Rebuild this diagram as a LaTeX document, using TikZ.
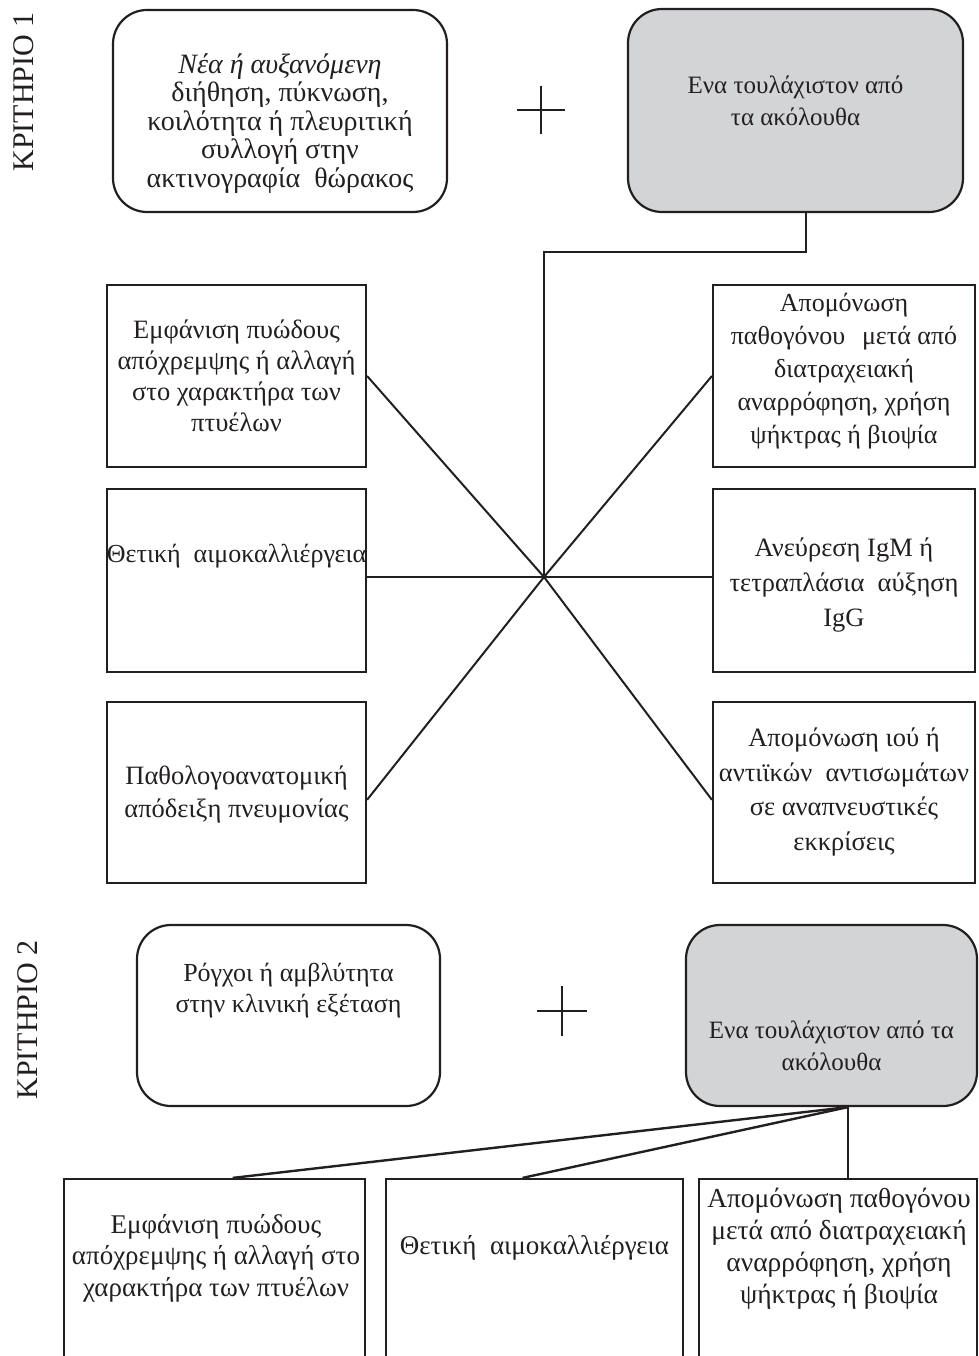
\documentclass[tikz,border=0pt]{standalone}
\usepackage{fontspec}
\setmainfont{Liberation Serif}
\usetikzlibrary{calc}
\definecolor{boxgrey}{RGB}{211,212,214}
\definecolor{ink}{RGB}{35,31,32}
\begin{document}
\begin{tikzpicture}[x=1pt,y=-1pt,
  boxline/.style={draw=ink,line width=2.2pt},
  rbox/.style={boxline,rounded corners=34pt,inner sep=0pt},
  sbox/.style={boxline,inner sep=0pt},
  greyfill/.style={fill=boxgrey},
  txt/.style={align=center,inner sep=0pt,text=ink},
  link/.style={draw=ink,line width=2pt},
  plusline/.style={draw=ink,line width=2pt},
  crit/.style={rotate=90,font=\fontsize{30}{30}\selectfont,inner sep=0pt,text=ink}]
\useasboundingbox (0,0) rectangle (978,1356);

% ---------- criterion 1 ----------
\node[crit] (K1) at (24,92) {ΚΡΙΤΗΡΙΟ 1};

\node[rbox,minimum width=334,minimum height=202] (A1) at (280,111) {};
\node[txt,font=\fontsize{28}{28.5}\selectfont] (A1t) at (280,123.5)
  {{\itshape Νέα ή αυξανόμενη}\\ διήθηση, πύκνωση,\\ κοιλότητα ή πλευριτική\\ συλλογή στην\\ ακτινογραφία\ \ θώρακος};

\draw[plusline] (541,86) -- (541,134) (517,110) -- (565,110);

\node[rbox,greyfill,minimum width=335,minimum height=203] (G1) at (795.5,110.5) {};
\node[txt,font=\fontsize{25}{32}\selectfont] (G1t) at (795.5,101)
  {Ενα τουλάχιστον από\\ τα ακόλουθα};

% middle boxes
\node[sbox,minimum width=259,minimum height=182] (L1) at (236.5,376) {};
\node[txt,font=\fontsize{26.5}{31}\selectfont] (L1t) at (236.5,376)
  {Εμφάνιση πυώδους\\ απόχρεμψης ή αλλαγή\\ στο χαρακτήρα των\\ πτυέλων};
\node[sbox,minimum width=259,minimum height=183] (L2) at (236.5,580.5) {};
\node[txt,font=\fontsize{26}{32}\selectfont] (L2t) at (236.5,556)
  {Θετική\ \ αιμοκαλλιέργεια};
\node[sbox,minimum width=259,minimum height=181] (L3) at (236.5,792.5) {};
\node[txt,font=\fontsize{26.5}{33}\selectfont] (L3t) at (236.5,794)
  {Παθολογοανατομική\\ απόδειξη πνευμονίας};

\node[sbox,minimum width=262,minimum height=182] (R1) at (844,376) {};
\node[txt,font=\fontsize{26}{33}\selectfont] (R1t) at (844,371.5)
  {Απομόνωση\\ παθογόνου\hspace{0.4em} μετά από\\ διατραχειακή\\ αναρρόφηση, χρήση\\ ψήκτρας ή βιοψία};
\node[sbox,minimum width=262,minimum height=183] (R2) at (844,580.5) {};
\node[txt,font=\fontsize{26.5}{35}\selectfont] (R2t) at (844,585)
  {Ανεύρεση IgM ή\\ τετραπλάσια\ \ αύξηση\\ IgG};
\node[sbox,minimum width=262,minimum height=181] (R3) at (844,792.5) {};
\node[txt,font=\fontsize{26.5}{34.5}\selectfont] (R3t) at (844,792)
  {Απομόνωση ιού ή\\ αντιϊκών\ \ αντισωμάτων\\ σε αναπνευστικές\\ εκκρίσεις};

% connectors
\coordinate (hub) at (544,577);
\coordinate (k) at (806,252);
\draw[link] (G1.south -| k) -- (k) -- (k -| hub) -- (hub);
\draw[link] (L1.east) -- (hub) -- (R1.west);
\draw[link] (hub -| L2.east) -- (hub -| R2.west);
\draw[link] ($(L3.north east)!0.54!(L3.south east)$) -- (hub)
  -- ($(R3.north west)!0.54!(R3.south west)$);

% ---------- criterion 2 ----------
\node[crit] (K2) at (28,1020) {ΚΡΙΤΗΡΙΟ 2};

\node[rbox,minimum width=303,minimum height=181] (B1) at (288.5,1015.5) {};
\node[txt,font=\fontsize{26}{31}\selectfont] (B1t) at (288.5,991)
  {Ρόγχοι ή αμβλύτητα\\ στην κλινική εξέταση};

\draw[plusline] (562,986) -- (562,1036) (537,1011) -- (587,1011);

\node[rbox,greyfill,minimum width=291,minimum height=181] (G2) at (831.5,1015.5) {};
\node[txt,font=\fontsize{25}{32}\selectfont] (G2t) at (831.5,1046)
  {Ενα τουλάχιστον από τα\\ ακόλουθα};

\node[sbox,minimum width=301,minimum height=201] (C1) at (214.5,1279.5) {};
\node[txt,font=\fontsize{27}{31.5}\selectfont] (C1t) at (216,1258)
  {Εμφάνιση πυώδους\\ απόχρεμψης ή αλλαγή στο\\ χαρακτήρα των πτυέλων};
\node[sbox,minimum width=297,minimum height=201] (C2) at (534.5,1279.5) {};
\node[txt,font=\fontsize{27}{31.5}\selectfont] (C2t) at (534.5,1248)
  {Θετική\ \ αιμοκαλλιέργεια};
\node[sbox,minimum width=278,minimum height=201] (C3) at (838,1279.5) {};
\node[txt,font=\fontsize{27.5}{32}\selectfont] (C3t) at (839,1249)
  {Απομόνωση παθογόνου\\ μετά από διατραχειακή\\ αναρρόφηση, χρήση\\ ψήκτρας ή βιοψία};

\coordinate (j2) at ($(G2.south west)!0.556!(G2.south east)$);
\draw[link,line width=2.4pt] (j2) -- ($(C1.north west)!0.56!(C1.north east)$);
\draw[link,line width=2.4pt] (j2) -- ($(C2.north west)!0.46!(C2.north east)$);
\draw[link,line width=2.4pt] (j2) -- (j2 |- C3.north);
\end{tikzpicture}
\end{document}
